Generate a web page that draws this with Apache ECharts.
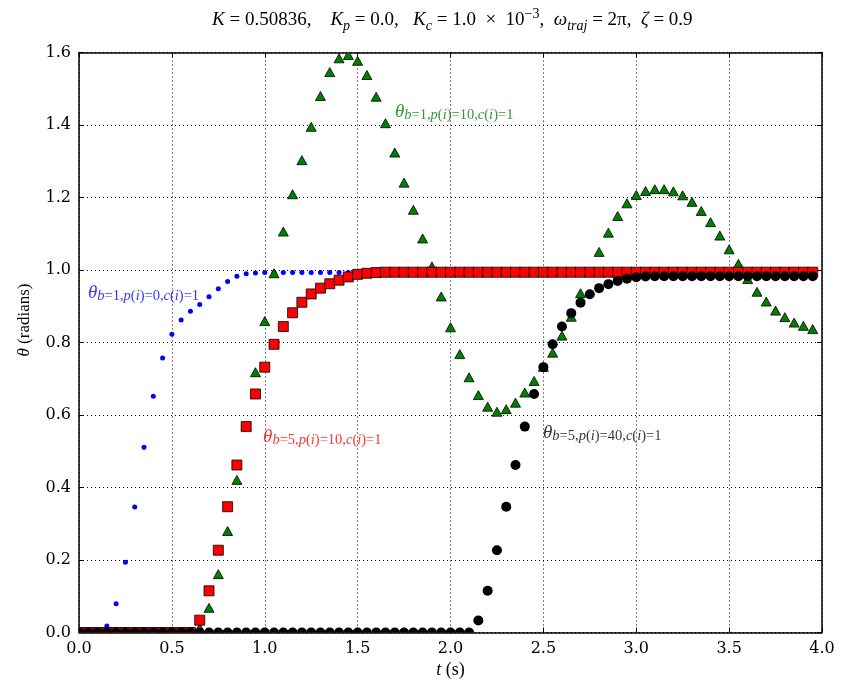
<!DOCTYPE html>
<html>
<head>
<meta charset="utf-8">
<script src="https://cdn.jsdelivr.net/npm/echarts@6/dist/echarts.min.js"></script>
<style>
  html, body { margin: 0; padding: 0; background: #fff; }
  #main { width: 842px; height: 685px; }
</style>
</head>
<body>
<div id="main"></div>
<script>
// time samples (s)
const tValues = [
  0.00, 0.05, 0.10, 0.15, 0.20, 0.25, 0.30, 0.35, 0.40, 0.45,
  0.50, 0.55, 0.60, 0.65, 0.70, 0.75, 0.80, 0.85, 0.90, 0.95,
  1.00, 1.05, 1.10, 1.15, 1.20, 1.25, 1.30, 1.35, 1.40, 1.45,
  1.50, 1.55, 1.60, 1.65, 1.70, 1.75, 1.80, 1.85, 1.90, 1.95,
  2.00, 2.05, 2.10, 2.15, 2.20, 2.25, 2.30, 2.35, 2.40, 2.45,
  2.50, 2.55, 2.60, 2.65, 2.70, 2.75, 2.80, 2.85, 2.90, 2.95,
  3.00, 3.05, 3.10, 3.15, 3.20, 3.25, 3.30, 3.35, 3.40, 3.45,
  3.50, 3.55, 3.60, 3.65, 3.70, 3.75, 3.80, 3.85, 3.90, 3.95
];

// theta, b=1, p(i)=0, c(i)=1 (blue dots)
const thetaB1P0 = [
  0, 0, 0.003, 0.018, 0.079, 0.194, 0.346, 0.511, 0.652, 0.757,
  0.823, 0.862, 0.886, 0.905, 0.926, 0.948, 0.968, 0.983, 0.990, 0.992,
  0.993, 0.993, 0.993, 0.993, 0.993, 0.993, 0.993, 0.993, 0.993, 0.993,
  0.993, 0.993, 0.993, 0.993, 0.993, 0.993, 0.993, 0.993, 0.993, 0.993,
  0.993, 0.993, 0.993, 0.993, 0.993, 0.993, 0.993, 0.993, 0.993, 0.993,
  0.993, 0.993, 0.993, 0.993, 0.993, 0.993, 0.993, 0.993, 0.993, 0.993,
  0.993, 0.993, 0.993, 0.993, 0.993, 0.993, 0.993, 0.993, 0.993, 0.993,
  0.993, 0.993, 0.993, 0.993, 0.993, 0.993, 0.993, 0.993, 0.993, 0.993
];

// theta, b=1, p(i)=10, c(i)=1 (green triangles)
const thetaB1P10 = [
  0, 0, 0, 0, 0, 0, 0, 0, 0, 0,
  0, 0, 0, 0.012, 0.068, 0.161, 0.280, 0.421, 0.570, 0.718,
  0.859, 0.991, 1.106, 1.209, 1.303, 1.395, 1.480, 1.546, 1.584, 1.593,
  1.577, 1.538, 1.478, 1.405, 1.324, 1.241, 1.166, 1.087, 1.010, 0.927,
  0.842, 0.768, 0.704, 0.655, 0.623, 0.609, 0.616, 0.634, 0.662, 0.694,
  0.733, 0.772, 0.819, 0.871, 0.936, 0.995, 1.050, 1.103, 1.149, 1.184,
  1.207, 1.218, 1.223, 1.223, 1.217, 1.206, 1.188, 1.163, 1.132, 1.095,
  1.057, 1.017, 0.975, 0.940, 0.913, 0.888, 0.870, 0.855, 0.846, 0.837
];

// theta, b=5, p(i)=10, c(i)=1 (red squares)
const thetaB5P10 = [
  0, 0, 0, 0, 0, 0, 0, 0, 0, 0,
  0, 0, 0, 0.034, 0.115, 0.227, 0.347, 0.462, 0.568, 0.658,
  0.732, 0.795, 0.844, 0.882, 0.911, 0.934, 0.950, 0.962, 0.972, 0.981,
  0.988, 0.991, 0.993, 0.994, 0.994, 0.994, 0.994, 0.994, 0.994, 0.994,
  0.994, 0.994, 0.994, 0.994, 0.994, 0.994, 0.994, 0.994, 0.994, 0.994,
  0.994, 0.994, 0.994, 0.994, 0.994, 0.994, 0.994, 0.994, 0.994, 0.994,
  0.994, 0.994, 0.994, 0.994, 0.994, 0.994, 0.994, 0.994, 0.994, 0.994,
  0.994, 0.994, 0.994, 0.994, 0.994, 0.994, 0.994, 0.994, 0.994, 0.994
];

// theta, b=5, p(i)=40, c(i)=1 (black circles)
const thetaB5P40 = [
  0, 0, 0, 0, 0, 0, 0, 0, 0, 0,
  0, 0, 0, 0, 0, 0, 0, 0, 0, 0,
  0, 0, 0, 0, 0, 0, 0, 0, 0, 0,
  0, 0, 0, 0, 0, 0, 0, 0, 0, 0,
  0, 0, 0, 0.033, 0.115, 0.227, 0.347, 0.462, 0.568, 0.658,
  0.732, 0.795, 0.844, 0.881, 0.910, 0.933, 0.950, 0.961, 0.970, 0.976,
  0.980, 0.982, 0.983, 0.983, 0.983, 0.983, 0.983, 0.983, 0.983, 0.983,
  0.983, 0.983, 0.983, 0.983, 0.983, 0.983, 0.983, 0.983, 0.983, 0.983
];

// in-plot labels: subscript text and anchor [t, theta]
const labelSubs = ['b=1,p(i)=0,c(i)=1', 'b=1,p(i)=10,c(i)=1', 'b=5,p(i)=10,c(i)=1', 'b=5,p(i)=40,c(i)=1'];
const labelAnchors = [[0.048, 0.937], [1.701, 1.436], [0.991, 0.539], [2.498, 0.550]];
const labelColors = ['#0000ff', '#008000', '#ff0000', '#000000'];

const SERIF = '"Liberation Serif", "DejaVu Serif", serif';

function pts(ys) {
  return tValues.map((t, i) => [t, ys[i]]);
}

// letters italic, everything else upright, like mathtext
function subTokens(s) {
  return s.split('').map(ch => /[a-z]/.test(ch) ? '{si|' + ch + '}' : '{s|' + ch + '}').join('');
}

function labelRich(color) {
  return {
    th: { fontFamily: SERIF, fontStyle: 'italic', fontSize: 19, lineHeight: 22, color: color },
    s: { fontFamily: SERIF, fontSize: 14.5, lineHeight: 11, verticalAlign: 'bottom', color: color },
    si: { fontFamily: SERIF, fontStyle: 'italic', fontSize: 14.5, lineHeight: 11, verticalAlign: 'bottom', color: color }
  };
}

let myChart = echarts.init(document.getElementById('main'), null, { renderer: 'canvas' });

const axisCommon = {
  type: 'value',
  axisLine: { show: true, onZero: false, lineStyle: { color: '#000', width: 1.5 } },
  axisTick: { show: true, inside: true, length: 5, lineStyle: { color: '#000' } },
  splitLine: { show: true, lineStyle: { color: '#000', type: [1, 3], width: 1 } }
};

const labelSeries = labelSubs.map((sub, i) => ({
  type: 'scatter',
  z: 10,
  symbolSize: 0,
  silent: true,
  data: [labelAnchors[i]],
  label: {
    show: true,
    position: 'right',
    distance: 0,
    formatter: '{th|θ}' + subTokens(sub),
    rich: labelRich(labelColors[i])
  }
}));

// markers drawn through custom series with clip, so marks sitting on the axis are cut like matplotlib does
function markerRenderer(kind, size, fill, stroke) {
  return function (params, api) {
    const p = api.coord([api.value(0), api.value(1)]);
    const h = size / 2;
    const style = { fill: fill, stroke: stroke || null, lineWidth: stroke ? 0.8 : 0 };
    if (kind === 'rect') {
      return { type: 'rect', shape: { x: p[0] - h, y: p[1] - h, width: size, height: size }, style: style };
    }
    if (kind === 'triangle') {
      return { type: 'polygon', shape: { points: [[p[0], p[1] - h * 0.9], [p[0] - h, p[1] + h * 0.9], [p[0] + h, p[1] + h * 0.9]] }, style: style };
    }
    return { type: 'circle', shape: { cx: p[0], cy: p[1], r: h }, style: style };
  };
}

function markerSeries(name, ys, z, renderer) {
  return {
    name: name,
    type: 'custom',
    z: z,
    clip: true,
    silent: true,
    renderItem: renderer,
    encode: { x: 0, y: 1 },
    data: pts(ys)
  };
}

const titleRich = {
  i: { fontFamily: SERIF, fontStyle: 'italic', fontSize: 19, lineHeight: 26, color: '#000', fontWeight: 'normal' },
  n: { fontFamily: SERIF, fontSize: 19, lineHeight: 26, color: '#000', fontWeight: 'normal' },
  sb: { fontFamily: SERIF, fontStyle: 'italic', fontSize: 14, lineHeight: 12, verticalAlign: 'bottom', color: '#000', fontWeight: 'normal' },
  sp: { fontFamily: SERIF, fontSize: 14, lineHeight: 12, verticalAlign: 'top', color: '#000', fontWeight: 'normal' }
};

let option = {
  animation: false,
  backgroundColor: '#fff',
  title: {
    left: 207,
    top: 2,
    text: '{i|K}{n| = 0.50836,    }{i|K}{sb|p}{n| = 0.0,   }{i|K}{sb|c}{n| = 1.0\u2002×\u200210}{sp|−3}{n|,  }{i|ω}{sb|traj}{n| = 2π,  }{i|ζ}{n| = 0.9}',
    textStyle: { fontWeight: 'normal', rich: titleRich }
  },
  grid: { left: 79, right: 20, top: 52.5, bottom: 52.5, containLabel: false },
  xAxis: [
    Object.assign({}, axisCommon, {
      position: 'bottom',
      min: 0, max: 4, interval: 0.5,
      name: '{i|t}{n| (s)}',
      nameLocation: 'middle',
      nameGap: 26,
      nameTextStyle: {
        rich: {
          i: { fontFamily: SERIF, fontStyle: 'italic', fontSize: 18, color: '#000' },
          n: { fontFamily: SERIF, fontSize: 18, color: '#000' }
        }
      },
      axisLabel: {
        margin: 8,
        fontFamily: '"DejaVu Serif", serif', fontSize: 16, color: '#000',
        formatter: v => v.toFixed(1)
      }
    }),
    Object.assign({}, axisCommon, {
      position: 'top',
      min: 0, max: 4, interval: 0.5,
      axisLabel: { show: false },
      splitLine: { show: false }
    })
  ],
  yAxis: [
    Object.assign({}, axisCommon, {
      position: 'left',
      min: 0, max: 1.6, interval: 0.2,
      axisLabel: {
        margin: 8,
        fontFamily: '"DejaVu Serif", serif', fontSize: 16, color: '#000',
        formatter: v => v.toFixed(1)
      }
    }),
    Object.assign({}, axisCommon, {
      position: 'right',
      min: 0, max: 1.6, interval: 0.2,
      axisLabel: { show: false },
      splitLine: { show: false }
    })
  ],
  graphic: [{
    type: 'text',
    x: 25,
    y: 320,
    rotation: Math.PI / 2,
    style: {
      text: '{i|θ}{n| (radians)}',
      align: 'center',
      verticalAlign: 'middle',
      rich: {
        i: { fontFamily: SERIF, fontStyle: 'italic', fontSize: 17, fill: '#000' },
        n: { fontFamily: SERIF, fontSize: 17, fill: '#000' }
      }
    }
  }],
  series: [
    markerSeries('b=1,p=0', thetaB1P0, 2, markerRenderer('circle', 5, '#0000ff')),
    markerSeries('b=1,p=10', thetaB1P10, 3, markerRenderer('triangle', 10, '#008000', '#000')),
    markerSeries('b=5,p=10', thetaB5P10, 4, markerRenderer('rect', 10, '#ff0000', '#000')),
    markerSeries('b=5,p=40', thetaB5P40, 5, markerRenderer('circle', 10, '#000'))
  ].concat(labelSeries)
};

myChart.setOption(option);
</script>
</body>
</html>
